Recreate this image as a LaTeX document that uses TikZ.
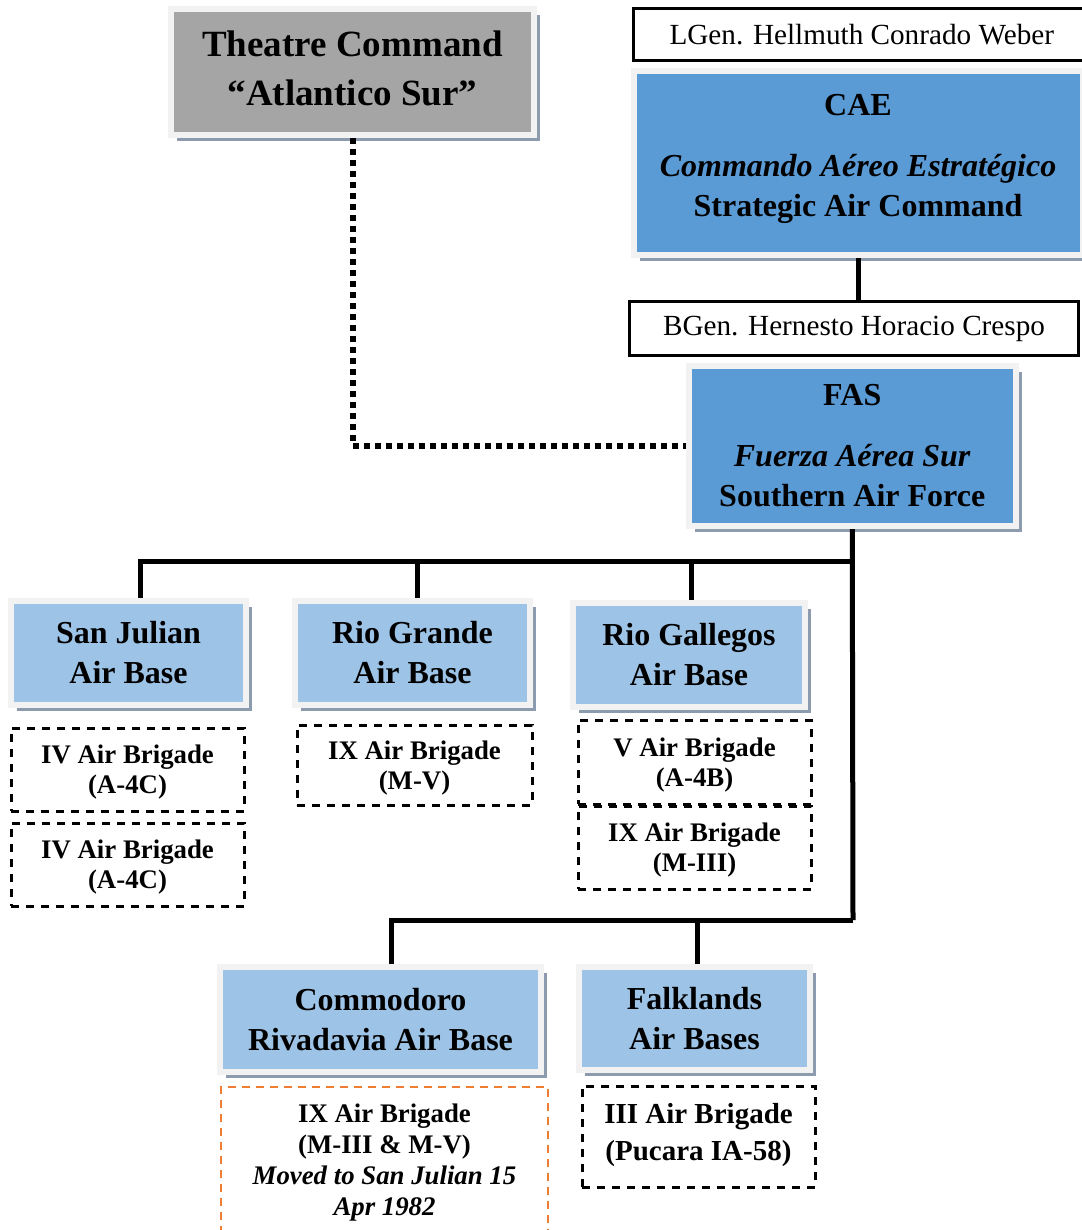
\documentclass[tikz,border=0pt]{standalone}
\usepackage{fontspec}
\setmainfont{Liberation Serif}
\usetikzlibrary{shadows}

\definecolor{cmdgrey}{HTML}{A5A5A5}
\definecolor{cmdblue}{HTML}{5B9BD5}
\definecolor{baseblue}{HTML}{9DC3E6}
\definecolor{framegrey}{HTML}{F2F2F2}
\definecolor{shadowgrey}{HTML}{8D9BAE}
\definecolor{movedorange}{HTML}{ED7D31}

\tikzset{
    framed/.style={draw=framegrey, line width=3pt, align=center, inner sep=0pt,
        drop shadow={shadow xshift=3pt, shadow yshift=-3pt, fill=shadowgrey, opacity=1}},
    theatre/.style={framed, fill=cmdgrey, text depth=4pt,
        font=\fontsize{18.5}{24.5}\selectfont\bfseries},
    command/.style={framed, fill=cmdblue, text depth=8pt,
        font=\fontsize{16}{20}\selectfont\bfseries},
    airbase/.style={framed, fill=baseblue, font=\fontsize{16}{20}\selectfont\bfseries},
    general/.style={draw, line width=1.5pt, fill=white, inner sep=0pt,
        font=\fontsize{14.6}{17}\selectfont},
    brigade/.style={draw, line width=1.5pt, dash pattern=on 4pt off 3.5pt, align=center,
        inner sep=0pt, text depth=0pt, font=\fontsize{13.4}{15}\selectfont\bfseries},
    link/.style={line width=2.5pt},
    dotlink/.style={line width=3pt, dash pattern=on 3pt off 2.5pt},
}

\begin{document}
\begin{tikzpicture}[x=0.5pt, y=-0.5pt]
    \useasboundingbox (0,0) rectangle (1081,1230);

    % top level
    \node[theatre, minimum width=181.5pt, minimum height=63pt] (tc) at (352.5,72)
        {Theatre Command\\``Atlantico Sur''};

    \node[general, minimum width=228.25pt, minimum height=26pt] (weber) at (861.75,34.5)
        {LGen. Hellmuth Conrado Weber};
    \node[command, minimum width=224.5pt, minimum height=92pt] (cae) at (858,163)
        {CAE\\[10.5pt]\textit{Commando Aéreo Estratégico}\\Strategic Air Command};

    \node[general, minimum width=224.5pt, minimum height=27pt] (crespo) at (854,328.5)
        {BGen. Hernesto Horacio Crespo};
    \node[command, text depth=0pt, minimum width=163.75pt, minimum height=80.25pt] (fas)
        at (852.25,445.75) {FAS\\[10.5pt]\textit{Fuerza Aérea Sur}\\Southern Air Force};

    % air bases
    \node[airbase, minimum width=117.5pt, minimum height=52pt] (sj) at (128.5,653)
        {San Julian\\Air Base};
    \node[airbase, minimum width=117.5pt, minimum height=52pt] (rg) at (412.5,653)
        {Rio Grande\\Air Base};
    \node[airbase, minimum width=116pt, minimum height=52pt] (rga) at (689,655)
        {Rio Gallegos\\Air Base};
    \node[airbase, minimum width=160.5pt, minimum height=52.5pt] (cr) at (380.5,1019.5)
        {Commodoro\\Rivadavia Air Base};
    \node[airbase, minimum width=115.5pt, minimum height=51.5pt] (fk) at (694.5,1018.5)
        {Falklands\\Air Bases};

    % brigades
    \node[brigade, minimum width=116.5pt, minimum height=41.5pt] (sj1) at (127.5,769.5)
        {IV Air Brigade\\(A-4C)};
    \node[brigade, minimum width=116.5pt, minimum height=41.5pt] (sj2) at (127.5,864.5)
        {IV Air Brigade\\(A-4C)};
    \node[brigade, minimum width=117.5pt, minimum height=40pt] (rg1) at (414.5,765)
        {IX Air Brigade\\(M-V)};
    \node[brigade, minimum width=116.5pt, minimum height=42pt] (rga1) at (694.5,762)
        {V Air Brigade\\(A-4B)};
    \node[brigade, minimum width=116.5pt, minimum height=41.5pt] (rga2) at (694.5,847.5)
        {IX Air Brigade\\(M-III)};
    \node[brigade, draw=movedorange, line width=1.1pt, dash pattern=on 4pt off 3pt,
        font=\fontsize{13.4}{15.5}\selectfont\bfseries,
        minimum width=163.5pt, minimum height=72.5pt] (cr1) at (384.5,1159.5)
        {IX Air Brigade\\(M-III \& M-V)\\\textit{Moved to San Julian 15}\\\textit{Apr 1982}};
    \node[brigade, text depth=4.5pt, font=\fontsize{14.5}{18.5}\selectfont\bfseries,
        minimum width=116.5pt, minimum height=50.5pt] (fk1) at (698.5,1136.5)
        {III Air Brigade\\(Pucara IA-58)};

    % connectors
    \coordinate (busA) at (853,561);
    \coordinate (busB) at (853,920);
    \draw[dotlink] (tc.south) |- (fas.west);
    \draw[link] (cae.south) -- (cae.south |- crespo.north);
    \draw[link] (fas.south) -- (busB);
    \draw[link] (busA) -| ([xshift=5.75pt]sj.north);
    \draw[link] ([xshift=2.25pt]rg.north) -- ([xshift=2.25pt]rg.north |- busA);
    \draw[link] ([xshift=1pt]rga.north) -- ([xshift=1pt]rga.north |- busA);
    \draw[link] (busB) -| ([xshift=5.25pt]cr.north);
    \draw[link] ([xshift=1.25pt]fk.north) -- ([xshift=1.25pt]fk.north |- busB);

\end{tikzpicture}
\end{document}
